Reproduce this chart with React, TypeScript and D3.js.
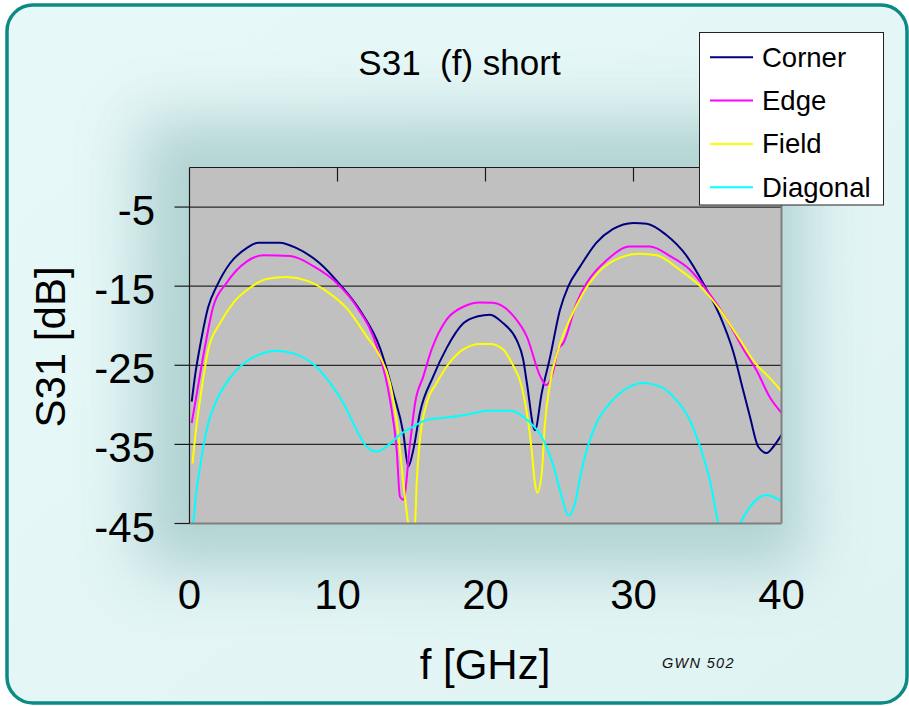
import React from "react";
import * as d3 from "d3";

// Frequency axis ticks (GHz) and level ticks (dB)
const freqTicks = [0, 10, 20, 30, 40];
const dbTicks = [-5, -15, -25, -35, -45];

const seriesNames = ["Corner", "Edge", "Field", "Diagonal"];
const seriesColors = ["#000080", "#FF00FF", "#FFFF00", "#00FFFF"];

// Corner port
const cornerFreq = [0.15, 0.4, 0.71, 1.27, 1.84, 2.74, 3.86, 4.65, 6.1, 7.24, 8.8, 10.17, 11.5, 12.87, 13.77, 14.45, 14.78, 15.12, 15.57, 16.47, 17.38, 18.5, 19.5, 20.3, 21.2, 22.1, 22.55, 22.8, 23.34, 23.8, 24.36, 25.03, 25.6, 26.4, 27.5, 28.6, 30.0, 30.9, 32.2, 33.6, 34.7, 35.85, 36.74, 37.4, 37.87, 38.43, 39.0, 39.45, 40.0];
const cornerDb = [-29.6, -26.0, -22.6, -17.6, -15.0, -12.1, -10.2, -9.5, -9.5, -10.2, -12.1, -14.8, -18.0, -22.8, -28.5, -33.6, -37.8, -35.7, -31.0, -26.4, -22.8, -19.7, -18.8, -18.6, -19.7, -21.8, -24.3, -27.3, -33.2, -28.5, -24.0, -18.0, -15.0, -12.5, -9.5, -7.8, -7.0, -7.1, -8.5, -11.2, -14.6, -18.8, -23.3, -28.1, -31.5, -35.3, -36.1, -35.3, -33.8];

// Edge port
const edgeFreq = [0.15, 0.5, 1.05, 1.6, 2.5, 3.86, 4.99, 6.8, 8.4, 9.95, 11.3, 12.65, 13.55, 14.0, 14.22, 14.45, 14.9, 15.24, 15.8, 16.36, 17.38, 18.5, 19.63, 20.5, 21.9, 22.8, 23.7, 24.1, 24.6, 24.9, 25.26, 26.16, 26.84, 28.2, 29.76, 31.1, 32.47, 33.8, 34.95, 36.3, 37.5, 38.3, 39.2, 40.0];
const edgeDb = [-32.3, -28.5, -22.6, -17.6, -14.6, -11.9, -11.1, -11.2, -12.5, -14.6, -17.6, -22.6, -29.4, -35.7, -41.6, -42.0, -34.9, -29.8, -26.4, -23.0, -19.2, -17.6, -17.05, -17.1, -18.8, -21.4, -26.4, -27.5, -25.6, -23.0, -22.2, -17.1, -14.6, -11.7, -10.0, -10.0, -11.2, -12.9, -15.5, -19.2, -23.2, -25.6, -29.0, -31.0];

// Field port
const fieldFreq = [0.2, 0.45, 0.71, 1.27, 2.06, 2.96, 4.09, 5.2, 6.57, 7.92, 9.27, 10.6, 11.97, 12.87, 13.55, 14.1, 14.45, 14.78, 15.0, 15.24, 15.35, 15.57, 16.03, 16.7, 17.38, 18.5, 19.63, 20.3, 21.2, 21.77, 22.45, 22.9, 23.12, 23.34, 23.5, 23.8, 24.0, 24.36, 24.92, 25.7, 26.6, 27.7, 29.1, 30.4, 31.57, 33.1, 34.5, 35.85, 37.2, 38.3, 39.2, 40.0];
const fieldDb = [-37.4, -33.0, -29.4, -23.0, -19.7, -17.1, -15.2, -14.1, -13.85, -14.3, -15.65, -17.75, -21.35, -23.9, -27.25, -33.6, -39.9, -45.0, -47.0, -45.0, -39.9, -34.4, -29.8, -27.25, -25.15, -23.0, -22.3, -22.3, -23.0, -24.7, -27.7, -32.3, -35.7, -39.9, -41.1, -38.65, -32.75, -27.25, -23.0, -19.2, -15.85, -13.1, -11.4, -10.9, -11.1, -12.9, -15.0, -18.0, -21.8, -24.9, -26.6, -28.3];

// Diagonal port
const diagonalFreq = [0.26, 0.49, 0.7, 0.93, 1.27, 1.84, 2.74, 3.86, 4.99, 5.9, 7.0, 8.4, 9.5, 10.4, 11.3, 11.97, 12.65, 13.43, 14.2, 15.12, 16.03, 17.38, 18.73, 20.19, 21.66, 22.8, 23.9, 24.6, 25.15, 25.6, 26.05, 26.4, 26.84, 27.5, 28.6, 29.76, 30.66, 31.8, 32.9, 33.8, 34.5, 35.2, 35.73, 36.4, 37.2, 37.87, 39.0, 40.0];
const diagonalDb = [-45.0, -40.5, -38.0, -35.3, -32.3, -29.4, -26.6, -24.5, -23.45, -23.15, -23.5, -24.9, -27.25, -29.8, -33.2, -35.3, -35.9, -35.1, -33.8, -32.75, -31.9, -31.6, -31.25, -30.75, -30.75, -31.9, -34.4, -37.8, -41.6, -44.0, -42.45, -39.1, -35.7, -32.3, -29.4, -27.7, -27.25, -27.7, -29.4, -31.9, -35.3, -39.9, -45.0, -48.5, -45.0, -42.9, -41.4, -42.2];

const seriesFreq = [cornerFreq, edgeFreq, fieldFreq, diagonalFreq];
const seriesDb = [cornerDb, edgeDb, fieldDb, diagonalDb];

const W = 909;
const H = 706;
const plot = { left: 189.5, top: 167.5, right: 781.5, bottom: 523.5 };
const FONT = "'Liberation Sans', Arial, Helvetica, sans-serif";

export default function App() {
  const x = d3.scaleLinear().domain([0, 40]).range([plot.left, plot.right]);
  const y = d3.scaleLinear().domain([-45, 0]).range([plot.bottom, plot.top]);
  const path = d3
    .line<[number, number]>()
    .x((d) => x(d[0]))
    .y((d) => y(d[1]))
    .curve(d3.curveMonotoneX);

  const legend = { x: 699.5, y: 32.5, w: 184, h: 172.5, row0: 57.3, step: 43.3 };

  return (
    <svg
      width={W}
      height={H}
      viewBox={`0 0 ${W} ${H}`}
      style={{ position: "absolute", left: 0, top: 0, display: "block" }}
    >
      <defs>
        <linearGradient id="bgGrad" x1="0" y1="0" x2="1" y2="1">
          <stop offset="0" stopColor="#e7f8f8" />
          <stop offset="1" stopColor="#e0f3f3" />
        </linearGradient>
        <filter id="glow" x="-30%" y="-30%" width="160%" height="160%">
          <feGaussianBlur stdDeviation="30" />
        </filter>
        <clipPath id="frameClip">
          <rect x={7} y={5} width={900} height={698} rx={26} />
        </clipPath>
        <clipPath id="plotClip">
          <rect x={plot.left} y={plot.top} width={plot.right - plot.left} height={plot.bottom - plot.top} />
        </clipPath>
      </defs>

      {/* frame and soft shading behind the plot */}
      <rect x={7} y={5} width={900} height={698} rx={26} fill="url(#bgGrad)" />
      <g clipPath="url(#frameClip)">
        <rect
          x={140}
          y={120}
          width={665}
          height={450}
          fill="#a9cccc"
          opacity={0.85}
          filter="url(#glow)"
        />
      </g>
      <rect x={7} y={5} width={900} height={698} rx={26} fill="none" stroke="#0e8a84" strokeWidth={3.5} />

      {/* plot area */}
      <rect
        x={plot.left}
        y={plot.top}
        width={plot.right - plot.left}
        height={plot.bottom - plot.top}
        fill="#C0C0C0"
      />
      {dbTicks.slice(0, 4).map((t) => (
        <line key={`g${t}`} x1={plot.left} x2={plot.right} y1={y(t)} y2={y(t)} stroke="#2a2a2a" strokeWidth={1.2} />
      ))}

      <g clipPath="url(#plotClip)">
        {seriesNames.map((name, i) => {
          const pts = seriesFreq[i].map((f, k) => [f, seriesDb[i][k]] as [number, number]);
          return (
            <path
              key={name}
              d={path(pts) || ""}
              fill="none"
              stroke={seriesColors[i]}
              strokeWidth={2}
              strokeLinejoin="round"
            />
          );
        })}
      </g>

      {/* plot border: axes black, outer edges grey */}
      <line x1={plot.right} x2={plot.right} y1={plot.top} y2={plot.bottom} stroke="#808080" strokeWidth={2} />
      <line x1={plot.left} x2={plot.right} y1={plot.bottom} y2={plot.bottom} stroke="#808080" strokeWidth={2} />
      <line x1={plot.left} x2={plot.right} y1={plot.top} y2={plot.top} stroke="#1a1a1a" strokeWidth={1.2} />
      <line x1={plot.left} x2={plot.left} y1={plot.top} y2={plot.bottom} stroke="#1a1a1a" strokeWidth={1.2} />

      {/* frequency ticks along the top axis, labels below */}
      {freqTicks.map((t) => (
        <g key={`x${t}`}>
          {t > 0 && t < 40 && (
            <line x1={x(t)} x2={x(t)} y1={plot.top} y2={plot.top + 14} stroke="#1a1a1a" strokeWidth={1.2} />
          )}
          <text x={x(t)} y={609} textAnchor="middle" fontFamily={FONT} fontSize={42} fill="#000">
            {t}
          </text>
        </g>
      ))}

      {/* level ticks */}
      {dbTicks.map((t) => (
        <g key={`y${t}`}>
          <line x1={plot.left - 15} x2={plot.left} y1={y(t)} y2={y(t)} stroke="#1a1a1a" strokeWidth={1.2} />
          <text x={155} y={y(t) + 18} textAnchor="end" fontFamily={FONT} fontSize={42} fill="#000">
            {t}
          </text>
        </g>
      ))}

      {/* titles */}
      <text
        x={459.5}
        y={75}
        textAnchor="middle"
        fontFamily={FONT}
        fontSize={35}
        fill="#000"
        style={{ whiteSpace: "pre" }}
      >
        {"S31  (f) short"}
      </text>
      <text x={485} y={679} textAnchor="middle" fontFamily={FONT} fontSize={42} fill="#000">
        f [GHz]
      </text>
      <text
        transform="translate(65,347) rotate(-90)"
        textAnchor="middle"
        fontFamily={FONT}
        fontSize={42}
        fill="#000"
      >
        S31 [dB]
      </text>
      <text
        x={662}
        y={668}
        fontFamily={FONT}
        fontSize={14.5}
        fontStyle="italic"
        letterSpacing={1.3}
        fill="#111"
      >
        GWN 502
      </text>

      {/* legend */}
      <rect x={legend.x} y={legend.y} width={legend.w} height={legend.h} fill="#fff" stroke="#222" strokeWidth={1} />
      {seriesNames.map((name, i) => {
        const ry = legend.row0 + i * legend.step;
        return (
          <g key={`l${name}`}>
            <line x1={710} x2={753} y1={ry} y2={ry} stroke={seriesColors[i]} strokeWidth={2} />
            <text x={762} y={ry + 9.5} fontFamily={FONT} fontSize={27.5} fill="#000">
              {name}
            </text>
          </g>
        );
      })}
    </svg>
  );
}
